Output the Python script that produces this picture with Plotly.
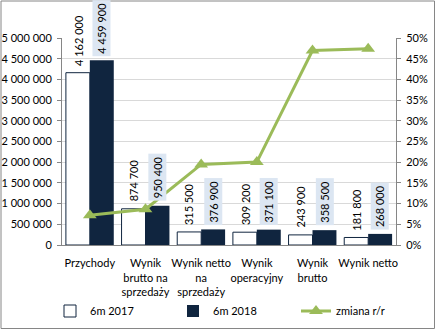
import plotly.graph_objects as go

categories = ["Przychody", "Wynik<br>brutto na<br>sprzedaży", "Wynik netto<br>na<br>sprzedaży",
              "Wynik<br>operacyjny", "Wynik<br>brutto", "Wynik netto"]
v2017 = [4162000, 874700, 315500, 309200, 243900, 181800]
v2018 = [4459900, 950400, 376900, 371100, 358500, 268000]
zmiana = [0.0716, 0.0865, 0.1946, 0.2002, 0.4699, 0.4741]
labels2017 = ["4 162 000", "874 700", "315 500", "309 200", "243 900", "181 800"]
labels2018 = ["4 459 900", "950 400", "376 900", "371 100", "358 500", "268 000"]

NAVY = "#10253F"
GREEN = "#9BBB59"
FONT = "Lato"

fig = go.Figure()
fig.add_trace(go.Bar(x=categories, y=v2017, name="6m 2017",
                     marker=dict(color="white", line=dict(color=NAVY, width=1))))
fig.add_trace(go.Bar(x=categories, y=v2018, name="6m 2018",
                     marker=dict(color=NAVY, line=dict(width=0))))
fig.add_trace(go.Scatter(x=categories, y=zmiana, name="zmiana r/r", yaxis="y2",
                         mode="lines+markers",
                         line=dict(color=GREEN, width=3),
                         marker=dict(symbol="triangle-up", size=12, color=GREEN)))

annotations = []
for c, v, t in zip(categories, v2017, labels2017):
    annotations.append(dict(x=c, y=v, xref="x", yref="y", text=t, showarrow=False,
                            textangle=-90, xshift=-12, yshift=5, yanchor="bottom",
                            font=dict(family=FONT, size=11, color="black")))
for c, v, t in zip(categories, v2018, labels2018):
    annotations.append(dict(x=c, y=v, xref="x", yref="y", text=t, showarrow=False,
                            textangle=-90, xshift=12, yshift=4, yanchor="bottom",
                            bgcolor="#DCE6F2", borderpad=2,
                            font=dict(family=FONT, size=11, color="black")))

W, H = 436, 330
ml, mr, mt, mb = 62, 40, 38, 85
pw, ph = W - ml - mr, H - mt - mb
def px(x):
    return (x - ml) / pw
def py(y):
    return (H - mb - y) / ph

fig.update_layout(
    width=W, height=H,
    margin=dict(l=ml, r=mr, t=mt, b=mb, autoexpand=False),
    paper_bgcolor="white", plot_bgcolor="white",
    separators=", ",
    barmode="group", bargap=0.14, bargroupgap=0,
    font=dict(family=FONT, size=11, color="black"),
    showlegend=True,
    legend=dict(orientation="h", xref="paper", yref="paper",
                x=px(50), xanchor="left", y=py(311), yanchor="middle",
                entrywidth=78, font=dict(family=FONT, size=11, color="black"),
                bgcolor="rgba(0,0,0,0)"),
    xaxis=dict(showline=True, linecolor="#868686", linewidth=1, ticks="",
               tickangle=0, automargin=False, ticklabelstandoff=8,
               tickfont=dict(family=FONT, size=11, color="black"), fixedrange=True),
    yaxis=dict(range=[0, 5000000], dtick=500000, tickformat=",d",
               showgrid=True, gridcolor="#D9D9D9", gridwidth=1,
               showline=True, linecolor="#868686", linewidth=1,
               ticks="outside", ticklen=4, tickcolor="#868686",
               zeroline=False, automargin=False, ticklabelstandoff=3,
               tickfont=dict(family=FONT, size=11, color="black")),
    yaxis2=dict(range=[0, 0.5], dtick=0.05, tickformat=".0%", overlaying="y", side="right",
                showgrid=False, showline=True, linecolor="#868686", linewidth=1,
                ticks="outside", ticklen=4, tickcolor="#868686", zeroline=False,
                automargin=False, ticklabelstandoff=3,
                tickfont=dict(family=FONT, size=11, color="black")),
    annotations=annotations,
    shapes=[dict(type="rect", xref="paper", yref="paper",
                 x0=px(1), x1=px(434.5), y0=py(328.5), y1=py(1),
                 line=dict(color="#868686", width=1), fillcolor="rgba(0,0,0,0)")],
)

fig.write_html("out.html")
